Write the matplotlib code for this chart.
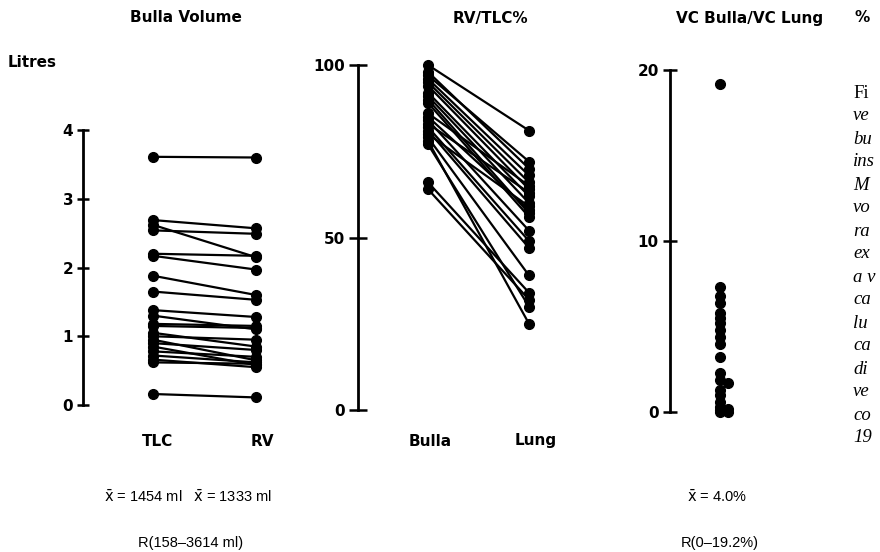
import matplotlib
matplotlib.use('Agg')
import matplotlib.pyplot as plt

plt.rcParams['mathtext.fontset'] = 'dejavusans'

# bulla volume in litres, one value per patient
tlc = [3.61, 2.69, 2.62, 2.54, 2.20, 2.17, 1.88, 1.65, 1.38, 1.30, 1.18,
       1.15, 1.05, 1.00, 0.95, 0.90, 0.85, 0.78, 0.72, 0.66, 0.62, 0.16]
rv = [3.60, 2.57, 2.15, 2.49, 2.17, 1.97, 1.60, 1.53, 1.28, 1.10, 1.15,
      1.12, 0.85, 0.95, 0.65, 0.80, 0.58, 0.70, 0.62, 0.55, 0.60, 0.11]

# RV/TLC % for bulla and for the rest of the lung
rvtlc_bulla = [100, 98, 97, 96, 95, 94, 92, 91, 90, 89, 86, 85, 84, 83,
               82, 81, 80, 79, 78, 77, 66, 64]
rvtlc_lung = [81, 70, 72, 68, 66, 64, 62, 60, 57, 56, 65, 58, 52, 63,
              49, 47, 59, 39, 25, 30, 34, 32]

# VC bulla / VC lung %
vc_ratio = [19.2, 7.3, 6.8, 6.4, 5.8, 5.5, 5.2, 4.8, 4.4, 4.0, 3.2, 2.3,
            1.9, 1.7, 1.3, 1.0, 0.6, 0.3, 0.2, 0.1, 0.0, 0.0]

# only the part of the caption that shows at the right edge
caption = ['Fi', 've', 'bu', 'ins', 'M', 'vo', 'ra', 'ex', 'a v',
           'ca', 'lu', 'ca', 'di', 've', 'co', '19']

W, H = 880, 552
fig = plt.figure(figsize=(W / 100, H / 100), dpi=100)
BOLD = dict(family='DejaVu Sans', fontweight='bold', color='black')
NORM = dict(family=['Liberation Sans', 'DejaVu Sans'], color='black')


def add_ax(left, right, top, bottom):
    return fig.add_axes([left / W, 1 - bottom / H, (right - left) / W, (bottom - top) / H])


def txt(x, y, s, **kw):
    fig.text(x / W, 1 - y / H, s, ha=kw.pop('ha', 'center'), va=kw.pop('va', 'center'), **kw)


def style_axis(ax, ticks, ticklen):
    for side in ['top', 'right', 'bottom']:
        ax.spines[side].set_visible(False)
    ax.spines['left'].set_linewidth(2.0)
    ax.set_xticks([])
    ax.set_yticks(ticks)
    ax.tick_params(axis='y', direction='inout', length=ticklen, width=1.8,
                   labelsize=11, pad=3)
    for lab in ax.get_yticklabels():
        lab.set_fontweight('bold')
    ax.patch.set_visible(False)


# panel 1: bulla volume
ax1 = add_ax(83, 290, 130, 405)
for a, b in zip(tlc, rv):
    ax1.plot([0, 1], [a, b], color='black', lw=1.6, marker='o', ms=7, clip_on=False)
ax1.set_xlim(-0.68, 1.33)
ax1.set_ylim(0, 4)
style_axis(ax1, [0, 1, 2, 3, 4], 8)

# panel 2: RV/TLC%
ax2 = add_ax(358, 560, 65, 410)
for a, b in zip(rvtlc_bulla, rvtlc_lung):
    ax2.plot([0, 1], [a, b], color='black', lw=1.6, marker='o', ms=7, clip_on=False)
ax2.set_xlim(-0.693, 1.307)
ax2.set_ylim(0, 100)
style_axis(ax2, [0, 50, 100], 13)

# panel 3: VC bulla / VC lung, nudge a dot right only when it would sit on top of the previous one
ax3 = add_ax(670, 740, 70, 412)
prev = None
for v in sorted(vc_ratio, reverse=True):
    xo = 0
    if prev is not None and prev[1] == 0 and abs(v - prev[0]) < 0.25:
        xo = 0.8
    prev = (v, xo)
    ax3.plot(xo, v, 'o', color='black', ms=7, clip_on=False)
ax3.set_xlim(-5, 2)
ax3.set_ylim(0, 20)
style_axis(ax3, [0, 10, 20], 10)

# titles and labels
txt(186, 18, 'Bulla Volume', fontsize=11, **BOLD)
txt(490, 18, 'RV/TLC%', fontsize=11, **BOLD)
txt(750, 18, 'VC Bulla/VC Lung', fontsize=11, **BOLD)
txt(862, 18, '%', fontsize=11, **BOLD)
txt(8, 62, 'Litres', fontsize=11, ha='left', **BOLD)

txt(158, 441, 'TLC', fontsize=11, **BOLD)
txt(262, 441, 'RV', fontsize=11, **BOLD)
txt(430, 441, 'Bulla', fontsize=11, **BOLD)
txt(536, 441, 'Lung', fontsize=11, **BOLD)

xbar = r'$\bar{\mathrm{x}}$'
txt(188, 497, xbar + ' = 1454 ml   ' + xbar + ' = 1333 ml', fontsize=10.5, **NORM)
txt(191, 543, 'R(158\u20133614 ml)', fontsize=10.5, **NORM)
txt(717, 497, xbar + ' = 4.0%', fontsize=10.5, **NORM)
txt(720, 543, 'R(0\u201319.2%)', fontsize=10.5, **NORM)

# caption cut off by the right edge
for i, line in enumerate(caption):
    style = 'normal' if i == 0 else 'italic'
    txt(853, 93 + i * 23, line, fontsize=13.5, ha='left',
        family='Liberation Serif', fontstyle=style, color='black')

fig.savefig('out.png', dpi=100)
